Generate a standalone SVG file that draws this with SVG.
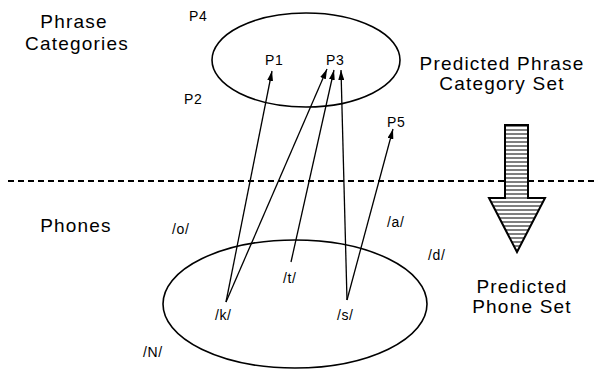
<svg xmlns="http://www.w3.org/2000/svg" width="596" height="371" viewBox="0 0 596 371">
<style>
text{font-family:"Liberation Sans",Arial,sans-serif;fill:#000}
.lbl{font-size:19px;letter-spacing:1.2px;text-anchor:middle}
.sm{font-size:14px;letter-spacing:0.6px}
.set{fill:none;stroke:#000;stroke-width:1.6}
.con{stroke:#000;stroke-width:1.3;fill:none;marker-end:url(#ah)}
</style>
<defs>
<marker id="ah" viewBox="0 0 10 6" refX="10" refY="3" markerWidth="10" markerHeight="6" markerUnits="userSpaceOnUse" orient="auto">
<path d="M0,0 L10,3 L0,6 Z" fill="#000"/>
</marker>
<pattern id="stripes" width="8" height="4" patternUnits="userSpaceOnUse">
<rect width="8" height="4" fill="#fff"/>
<line x1="0" y1="2" x2="8" y2="2" stroke="#000" stroke-width="1"/>
</pattern>
</defs>
<rect width="596" height="371" fill="#fff"/>
<line x1="8" y1="181" x2="596" y2="181" stroke="#000" stroke-width="2" stroke-dasharray="6 4"/>
<g id="labels">
<text class="lbl" x="74" y="28">Phrase</text>
<text class="lbl" x="77" y="50">Categories</text>
<text class="lbl" x="502" y="70">Predicted Phrase</text>
<text class="lbl" x="502" y="90">Category Set</text>
<text class="lbl" x="76" y="232">Phones</text>
<text class="lbl" x="522" y="293">Predicted</text>
<text class="lbl" x="522" y="313">Phone Set</text>
</g>
<g id="phrase-set">
<ellipse class="set" cx="306" cy="60" rx="94" ry="47"/>
</g>
<g id="phone-set">
<ellipse class="set" cx="295" cy="304" rx="132" ry="64"/>
</g>
<g id="phrase-nodes">
<text id="P4" class="sm" x="189" y="21">P4</text>
<text id="P1" class="sm" x="265" y="65">P1</text>
<text id="P3" class="sm" x="326" y="65">P3</text>
<text id="P2" class="sm" x="184" y="104">P2</text>
<text id="P5" class="sm" x="387" y="127">P5</text>
</g>
<g id="phone-nodes">
<text id="o" class="sm" x="172" y="234">/o/</text>
<text id="a" class="sm" x="387" y="227">/a/</text>
<text id="d" class="sm" x="428" y="260">/d/</text>
<text id="t" class="sm" x="283" y="283">/t/</text>
<text id="k" class="sm" x="215" y="320">/k/</text>
<text id="s" class="sm" x="337" y="320">/s/</text>
<text id="N" class="sm" x="143" y="357">/N/</text>
</g>
<g id="connectors">
<line class="con" x1="226" y1="302" x2="272" y2="71"/>
<line class="con" x1="226" y1="302" x2="327" y2="69"/>
<line class="con" x1="291" y1="262" x2="334" y2="70"/>
<line class="con" x1="347" y1="300" x2="341" y2="70"/>
<line class="con" x1="347" y1="300" x2="393" y2="129"/>
</g>
<g id="big-arrow">
<path d="M505,125 L528,125 L528,198 L545,198 L517,252 L489,198 L505,198 Z" fill="url(#stripes)" stroke="#000" stroke-width="2" stroke-linejoin="miter"/>
</g>
</svg>
